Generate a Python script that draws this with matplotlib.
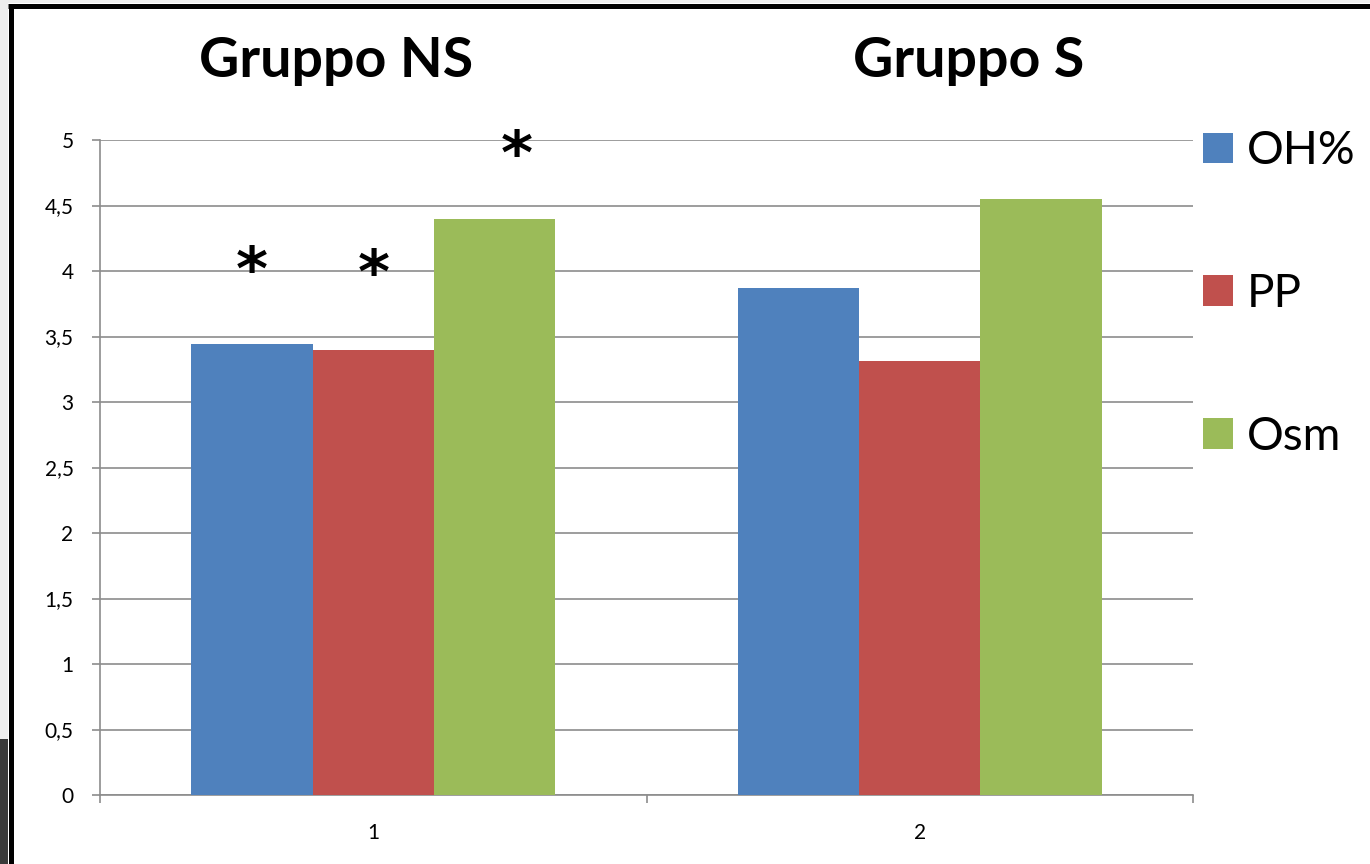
import matplotlib
matplotlib.use("Agg")
import matplotlib.pyplot as plt
from matplotlib.patches import Rectangle
from matplotlib.lines import Line2D

# Data
groups = ["1", "2"]
group_titles = ["Gruppo NS", "Gruppo S"]
series = ["OH%", "PP", "Osm"]
oh = [3.44, 3.87]
pp = [3.40, 3.31]
osm = [4.40, 4.55]
colors = ["#4F81BD", "#C0504D", "#9BBB59"]
y_ticks = [0, 0.5, 1, 1.5, 2, 2.5, 3, 3.5, 4, 4.5, 5]
y_tick_labels = ["0", "0,5", "1", "1,5", "2", "2,5", "3", "3,5", "4", "4,5", "5"]
# significance marks: (group index, series index, height)
marks = [(0, 0, 3.98), (0, 1, 3.96), (0, 2, 4.87)]

W, H = 1370, 864
fig = plt.figure(figsize=(W / 100, H / 100), dpi=100)
fig.patch.set_facecolor("white")

# slide frame: grey margin, black border, dark corner
fig.patches.append(Rectangle((0, 0), 8 / W, 1, transform=fig.transFigure,
                             facecolor="#eeeeee", edgecolor="none", zorder=0))
fig.patches.append(Rectangle((0, 0), 8 / W, 125 / H, transform=fig.transFigure,
                             facecolor="#3a3a3a", edgecolor="none", zorder=0))
fig.patches.append(Rectangle((0, 1 - 3 / H), 1, 3 / H, transform=fig.transFigure,
                             facecolor="#eeeeee", edgecolor="none", zorder=0))
fig.lines.append(Line2D([10.5 / W, 10.5 / W], [0, 1 - 5.5 / H], transform=fig.transFigure,
                        color="black", lw=3.6, solid_capstyle="butt"))
fig.lines.append(Line2D([8 / W, 1], [1 - 5.5 / H, 1 - 5.5 / H], transform=fig.transFigure,
                        color="black", lw=3.6, solid_capstyle="butt"))

ax = fig.add_axes([100 / W, 1 - 795 / H, 1093 / W, 655 / H])
ax.set_xlim(0, 2)
ax.set_ylim(0, 5)

bw = 1 / 4.5
offsets = [-bw, 0, bw]
centers = [0.5, 1.5]
values = [oh, pp, osm]
for s, (name, vals, col) in enumerate(zip(series, values, colors)):
    ax.bar([c + offsets[s] for c in centers], vals, width=bw, color=col,
           edgecolor="none", label=name, zorder=3)

for g, s, h in marks:
    xoff = 0.04 if s == 2 else 0.0
    ax.text(centers[g] + offsets[s] + xoff, h, "*", ha="center", va="center",
            fontsize=44, fontweight="bold", family="DejaVu Sans", zorder=4)

grid_c = "#8c8c8c"
ax.set_yticks(y_ticks)
ax.set_yticklabels(y_tick_labels)
ax.yaxis.grid(True, color=grid_c, lw=1.2, zorder=1)
ax.set_axisbelow(True)

ax.set_xticks([0, 1, 2])
ax.set_xticklabels([])
ax.set_xticks(centers, minor=True)
ax.set_xticklabels(groups, minor=True)
ax.tick_params(axis="x", which="major", length=6, width=1.2, color=grid_c, direction="out")
ax.tick_params(axis="x", which="minor", length=0, pad=20, labelsize=15)
ax.tick_params(axis="y", length=6, width=1.2, color=grid_c, pad=13, labelsize=15)
for lab in ax.get_xticklabels(minor=True) + ax.get_yticklabels():
    lab.set_family("Lato")

for side in ["top", "right"]:
    ax.spines[side].set_visible(False)
for side in ["left", "bottom"]:
    ax.spines[side].set_color(grid_c)
    ax.spines[side].set_linewidth(1.2)

for title, cx in zip(group_titles, [336, 969]):
    fig.text(cx / W, 1 - 77 / H, title, ha="center", va="baseline",
             fontsize=40, fontweight="bold", family="Lato")

leg = ax.legend(loc="upper left", bbox_to_anchor=(1203 / W, 1 - 130 / H),
                bbox_transform=fig.transFigure, frameon=False,
                prop={"family": "Lato", "size": 33},
                handlelength=0.65, handleheight=0.65, handletextpad=0.3,
                labelspacing=2.2, borderpad=0, borderaxespad=0)

fig.savefig("out.png", dpi=100)
